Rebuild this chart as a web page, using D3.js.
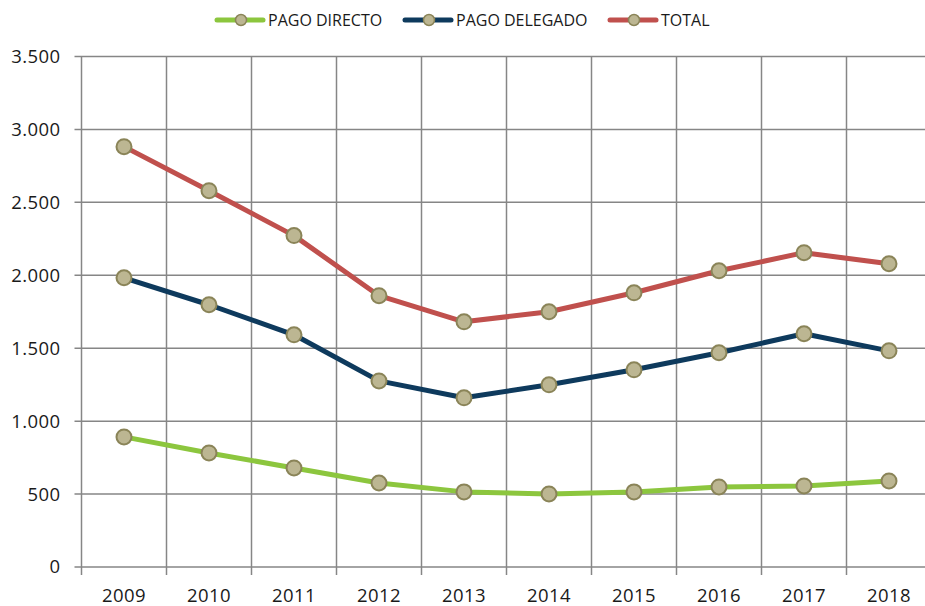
<!DOCTYPE html>
<html>
<head>
<meta charset="utf-8">
<script src="https://cdn.jsdelivr.net/npm/d3@7"></script>
<style>
  html, body { margin: 0; padding: 0; background: #fff; overflow: hidden; }
  svg { display: block; font-family: "Open Sans", "Noto Sans", sans-serif; }
</style>
</head>
<body>
<div id="chart"></div>
<script>
const years = ['2009', '2010', '2011', '2012', '2013', '2014', '2015', '2016', '2017', '2018'];
const pagoDirecto = [892, 782, 679, 576, 515, 501, 515, 549, 556, 590];
const pagoDelegado = [1983, 1798, 1592, 1276, 1160, 1249, 1352, 1469, 1599, 1482];
const total = [2882, 2580, 2272, 1860, 1681, 1750, 1880, 2031, 2155, 2079];
const yTicks = [0, 500, 1000, 1500, 2000, 2500, 3000, 3500];

const seriesNames = ['PAGO DIRECTO', 'PAGO DELEGADO', 'TOTAL'];
const seriesColors = ['#8cc63e', '#0e3a5d', '#c0504d'];
const seriesValues = [pagoDirecto, pagoDelegado, total];

const W = 925, H = 606;
const margin = { top: 56.5, left: 81.5, bottom: 39 };
const plotW = 850; // right edge runs past the window, as in the original
const plotH = H - margin.top - margin.bottom;

const svg = d3.select('#chart')
    .append('svg')
    .attr('width', W)
    .attr('height', H);

const g = svg.append('g')
    .attr('transform', `translate(${margin.left},${margin.top})`);

const x = d3.scaleBand()
    .domain(years)
    .range([0, plotW]);

const y = d3.scaleLinear()
    .domain([0, 3500])
    .range([plotH, 0]);

const grid = '#868686';

// horizontal gridlines + left ticks
g.selectAll('.hgrid')
    .data(yTicks)
    .enter()
    .append('line')
    .attr('x1', -7)
    .attr('x2', plotW)
    .attr('y1', d => y(d))
    .attr('y2', d => y(d))
    .attr('stroke', grid)
    .attr('stroke-width', 1.5);

// vertical gridlines (category boundaries), ticks below axis
const bounds = years.map(d => x(d)).concat([plotW]);
g.selectAll('.vgrid')
    .data(bounds)
    .enter()
    .append('line')
    .attr('x1', d => d)
    .attr('x2', d => d)
    .attr('y1', 0)
    .attr('y2', plotH + 8)
    .attr('stroke', grid)
    .attr('stroke-width', 1.5);

// Y labels
g.selectAll('.ylab')
    .data(yTicks)
    .enter()
    .append('text')
    .attr('x', -21)
    .attr('y', d => y(d))
    .attr('dy', '0.35em')
    .attr('text-anchor', 'end')
    .attr('font-size', 18.5)
    .attr('letter-spacing', 0.4)
    .attr('fill', '#1a1a1a')
    .text(d => d3.format(',')(d).replace(/,/g, '.'));

// X labels
g.selectAll('.xlab')
    .data(years)
    .enter()
    .append('text')
    .attr('x', d => x(d) + x.bandwidth() / 2)
    .attr('y', plotH + 34.5)
    .attr('text-anchor', 'middle')
    .attr('font-size', 18.5)
    .attr('letter-spacing', 0.4)
    .attr('fill', '#1a1a1a')
    .text(d => d);

const line = d3.line()
    .x((d, i) => x(years[i]) + x.bandwidth() / 2)
    .y(d => y(d));

seriesValues.forEach((vals, s) => {
    g.append('path')
        .datum(vals)
        .attr('fill', 'none')
        .attr('stroke', seriesColors[s])
        .attr('stroke-width', 5)
        .attr('stroke-linejoin', 'round')
        .attr('d', line);
});

seriesValues.forEach(vals => {
    g.selectAll(null)
        .data(vals)
        .enter()
        .append('circle')
        .attr('cx', (d, i) => x(years[i]) + x.bandwidth() / 2)
        .attr('cy', d => y(d))
        .attr('r', 7.5)
        .attr('fill', '#bcb692')
        .attr('stroke', '#8a8458')
        .attr('stroke-width', 2);
});

// Legend
const legendX = [217, 405, 610];
const legend = svg.append('g');
seriesNames.forEach((name, s) => {
    const lg = legend.append('g').attr('transform', `translate(${legendX[s]},20)`);
    lg.append('line')
        .attr('x1', 0).attr('x2', 46)
        .attr('stroke', seriesColors[s])
        .attr('stroke-width', 5)
        .attr('stroke-linecap', 'round');
    lg.append('circle')
        .attr('cx', 24)
        .attr('r', 5.5)
        .attr('fill', '#bcb692')
        .attr('stroke', '#8a8458')
        .attr('stroke-width', 1.5);
    lg.append('text')
        .attr('x', 51)
        .attr('dy', '0.35em')
        .attr('font-size', 16)
        .attr('fill', '#1a1a1a')
        .text(name);
});
</script>
</body>
</html>
